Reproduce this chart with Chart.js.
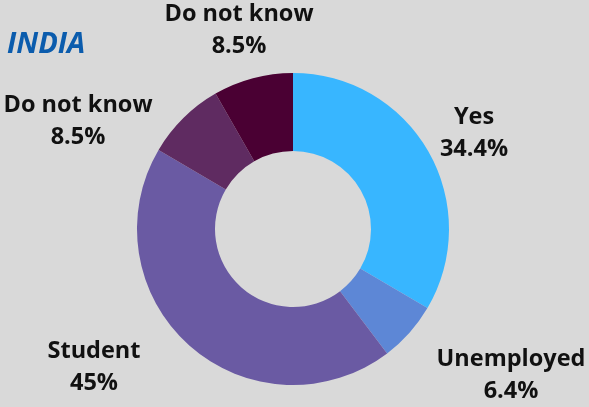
<!DOCTYPE html>
<html>
<head>
<meta charset="utf-8">
<script src="https://cdn.jsdelivr.net/npm/chart.js@4"></script>
<style>
    html, body {
        margin: 0;
        padding: 0;
        background: #d9d9d9;
    }
    .chart {
        width: 589px;
        height: 407px;
    }
</style>
</head>
<body>
<div class="chart">
    <canvas id="myChart" width="589" height="407"></canvas>
</div>
<script>
    // answers and their shares, %
    const labels = ['Yes', 'Unemployed', 'Student', 'Do not know', 'Do not know'];
    const values = [34.4, 6.4, 45, 8.5, 8.5];
    const colors = ['#38b6ff', '#5d87d6', '#6a5aa3', '#5f2b61', '#4a0033'];
    const valueText = ['34.4%', '6.4%', '45%', '8.5%', '8.5%'];

    // where each label sits, px from the doughnut centre
    const labelOffsets = [[181, -96], [218, 146], [-199, 138], [-215, -108], [-54, -199]];

    const sliceLabels = {
        id: 'sliceLabels',
        afterDraw(chart) {
            const ctx = chart.ctx;
            const arc = chart.getDatasetMeta(0).data[0];
            const cx = arc.x, cy = arc.y;
            ctx.save();
            ctx.fillStyle = '#111';
            ctx.textAlign = 'center';
            ctx.textBaseline = 'middle';
            ctx.font = 'bold 23.5px "Open Sans"';
            labels.forEach((label, i) => {
                const [dx, dy] = labelOffsets[i];
                ctx.fillText(label, cx + dx, cy + dy - 16);
                ctx.fillText(valueText[i], cx + dx, cy + dy + 16);
            });
            ctx.fillStyle = '#0b5cad';
            ctx.textAlign = 'left';
            ctx.font = 'italic bold 29px "Open Sans"';
            ctx.fillText('INDIA', 7, 45);
            ctx.restore();
        }
    };

    const ctx = document.getElementById('myChart').getContext('2d');
    new Chart(ctx, {
        type: 'doughnut',
        data: {
            labels: labels,
            datasets: [{
                data: values,
                backgroundColor: colors,
                borderWidth: 0
            }]
        },
        options: {
            responsive: false,
            animation: false,
            cutout: '50%',
            layout: {
                padding: { top: 73, bottom: 22, left: 137, right: 140 }
            },
            plugins: {
                legend: { display: false },
                tooltip: { enabled: false }
            }
        },
        plugins: [sliceLabels]
    });
</script>
</body>
</html>
